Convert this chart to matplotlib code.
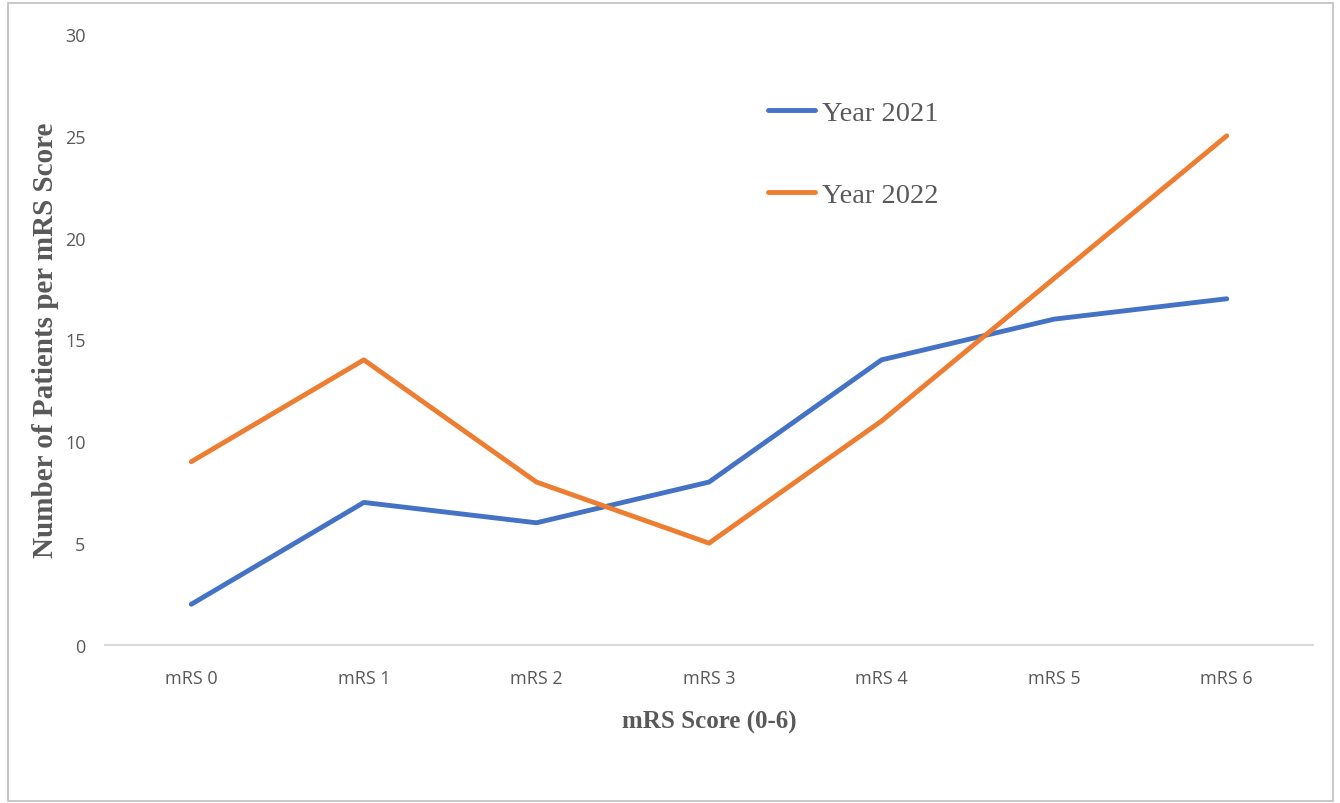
import matplotlib
matplotlib.use("Agg")
import matplotlib.pyplot as plt
from matplotlib.patches import Rectangle

categories = ["mRS 0", "mRS 1", "mRS 2", "mRS 3", "mRS 4", "mRS 5", "mRS 6"]
year_2021 = [2, 7, 6, 8, 14, 16, 17]
year_2022 = [9, 14, 8, 5, 11, 18, 25]
y_ticks = [0, 5, 10, 15, 20, 25, 30]

fig = plt.figure(figsize=(13.4, 8.04), dpi=100)
fig.patch.set_facecolor("white")
fig.add_artist(Rectangle((8/1340, 2/804), 1325/1340, 798/804, transform=fig.transFigure,
                         fill=False, edgecolor="#BFBFBF", linewidth=1.2))

ax = fig.add_axes([105/1340, 1-646/804, 1208/1340, 611/804])
x = list(range(len(categories)))
ax.plot(x, year_2021, color="#4472C4", lw=3.5, label="Year 2021", solid_capstyle="round")
ax.plot(x, year_2022, color="#ED7D31", lw=3.5, label="Year 2022", solid_capstyle="round")

ax.set_xlim(-0.5, 6.5)
ax.set_ylim(0, 30)
ax.set_yticks(y_ticks)
ax.set_xticks(x)
ax.set_xticklabels(categories)
for s in ["top", "right", "left"]:
    ax.spines[s].set_visible(False)
ax.spines["bottom"].set_color("#D9D9D9")
ax.spines["bottom"].set_linewidth(1.5)
ax.tick_params(axis="both", length=0, colors="#595959", labelsize=13)
ax.tick_params(axis="y", pad=14)
ax.tick_params(axis="x", pad=17)
for lab in ax.get_xticklabels() + ax.get_yticklabels():
    lab.set_fontfamily("Open Sans")

ax.set_xlabel("mRS Score (0-6)", fontfamily="Liberation Serif", fontweight="bold",
              fontsize=18, color="#595959", labelpad=17)
ax.set_ylabel("Number of Patients per mRS Score", fontfamily="Liberation Serif", fontweight="bold",
              fontsize=21, color="#595959", labelpad=4)

leg = ax.legend(loc="upper left", bbox_to_anchor=(0.5394, 1-0.090), frameon=False,
                borderaxespad=0,
                prop={"family": "Liberation Serif", "size": 20.5}, labelspacing=1.95,
                handlelength=1.65, handletextpad=0.25)
for t in leg.get_texts():
    t.set_color("#595959")

fig.savefig("out.png", dpi=100)
